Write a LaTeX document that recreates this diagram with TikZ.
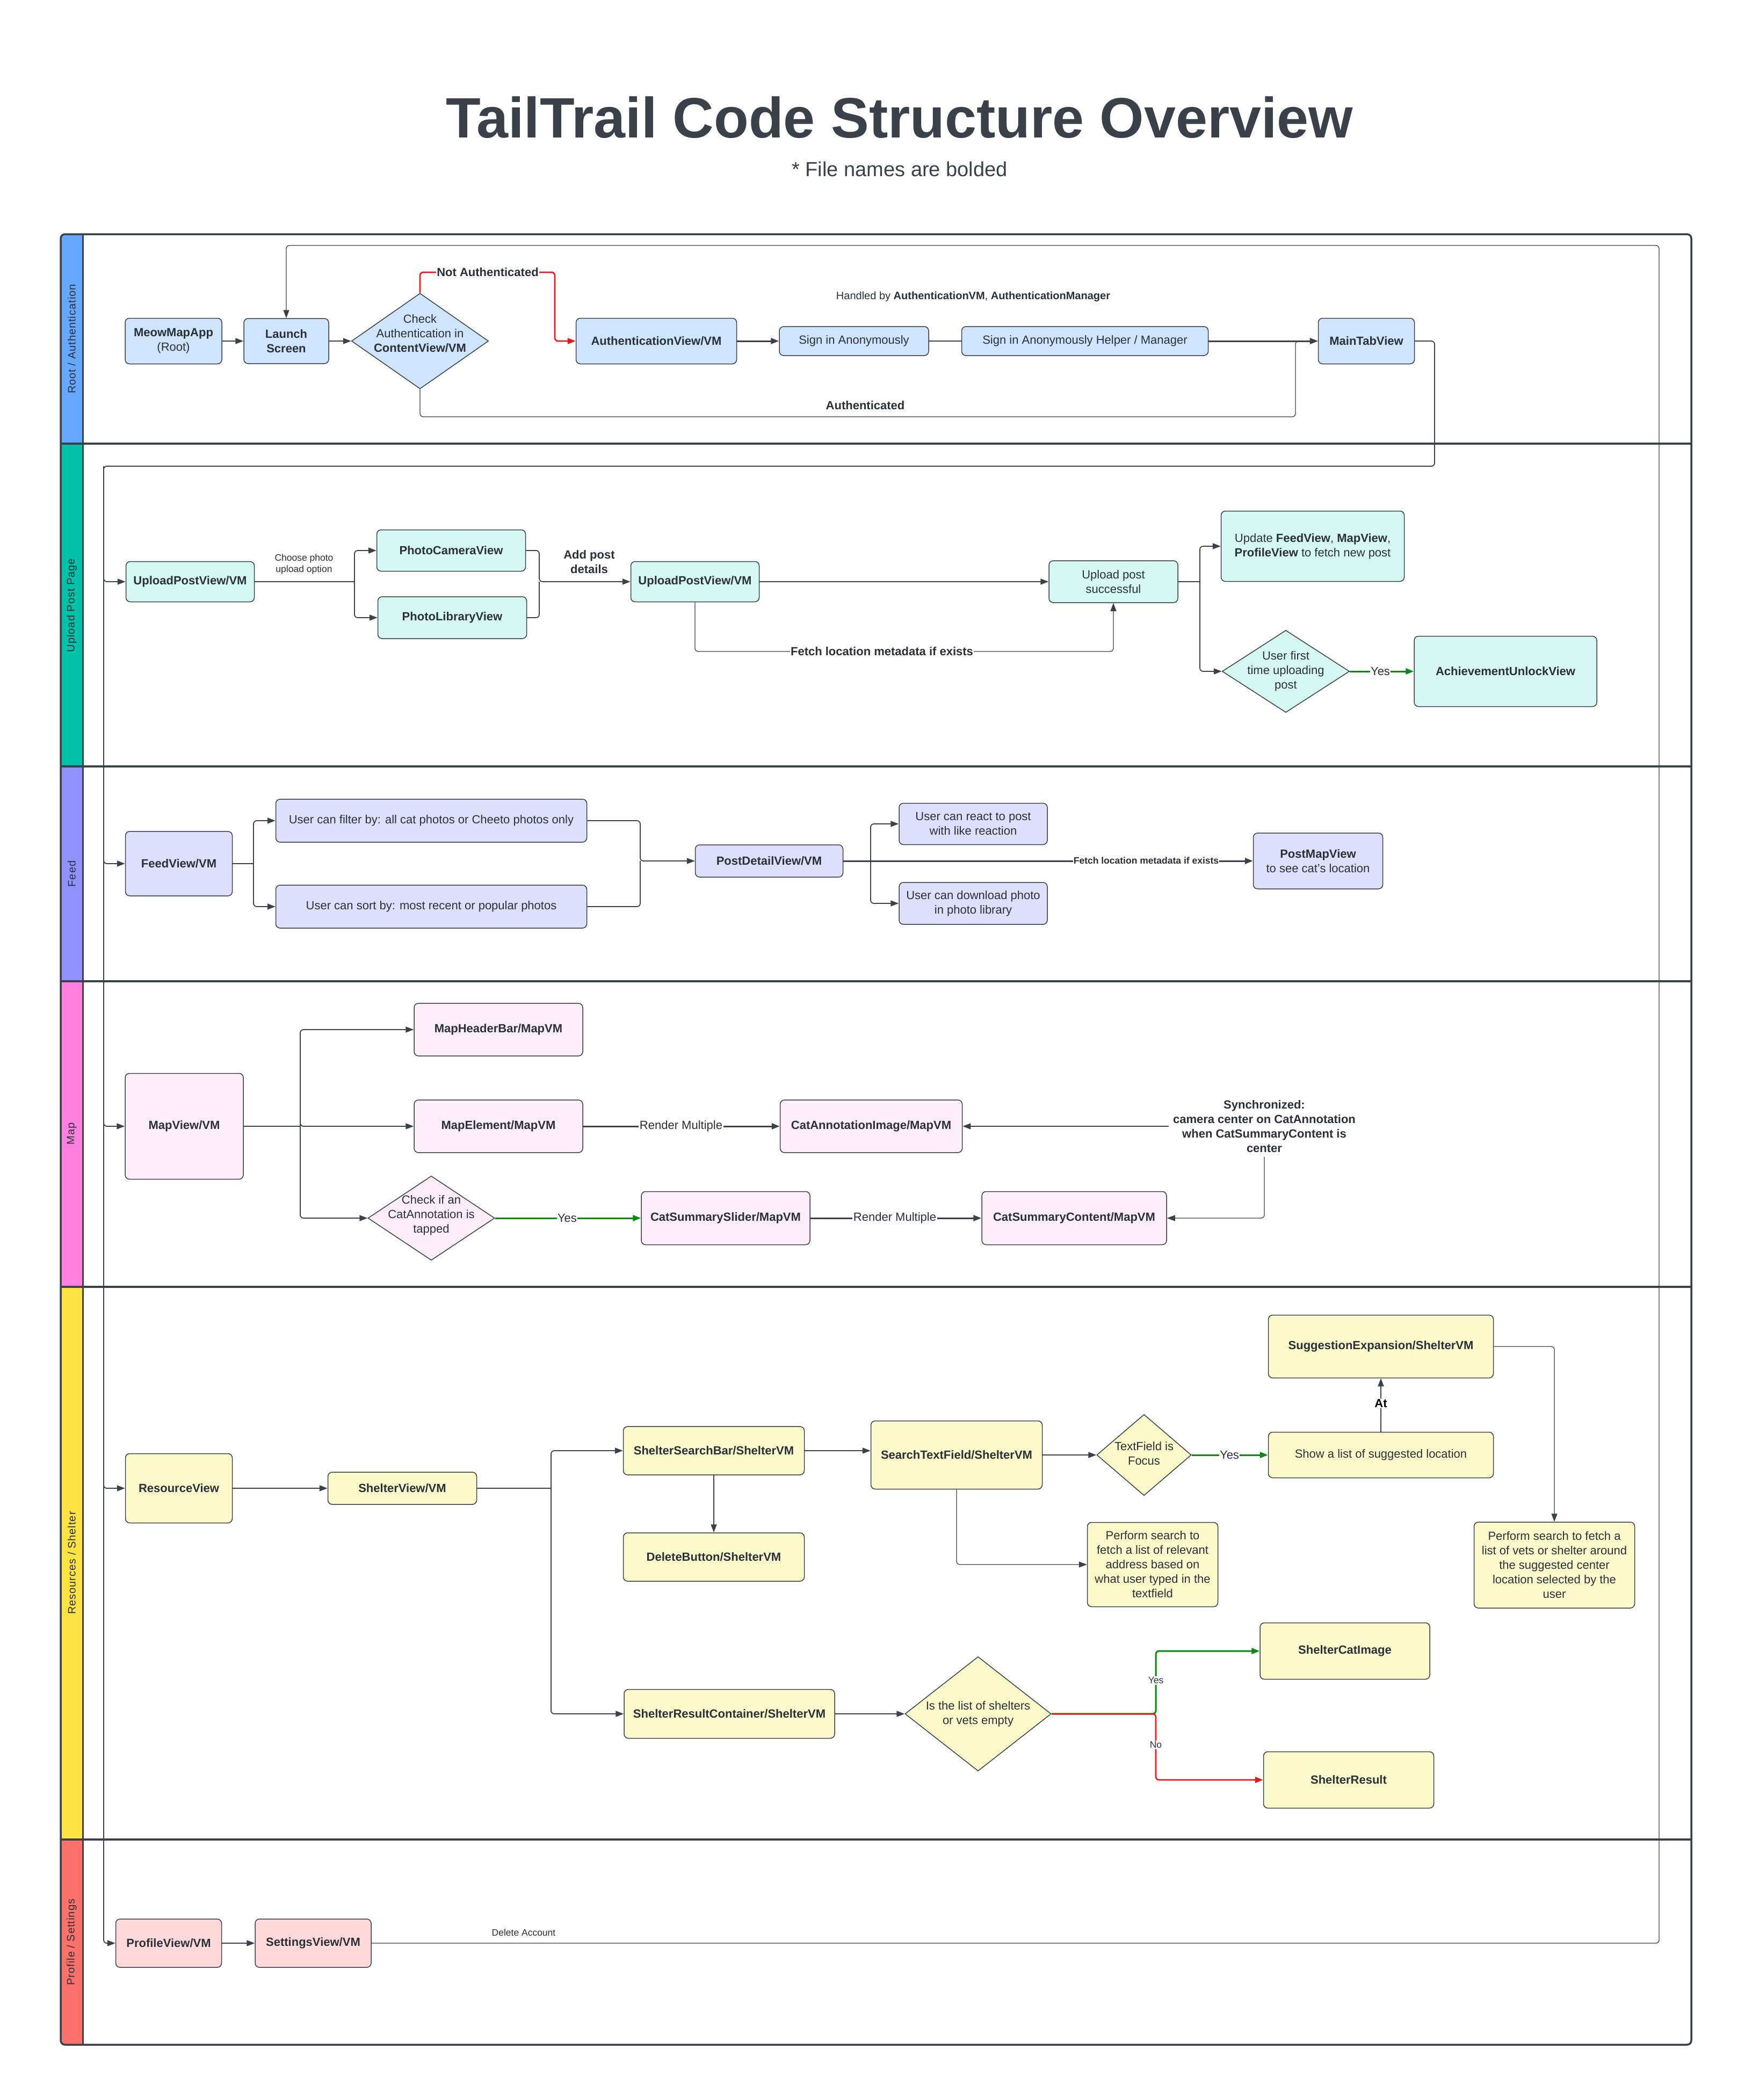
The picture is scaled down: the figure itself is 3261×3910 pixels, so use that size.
\documentclass[tikz,border=0pt]{standalone}
\usepackage{fontspec}
\setmainfont{Liberation Sans}
\usetikzlibrary{arrows.meta,shapes.geometric}

\definecolor{ink}{HTML}{2B3038}
\definecolor{linec}{HTML}{3A414A}
\definecolor{rootS}{HTML}{66A8FF}
\definecolor{upS}{HTML}{00C2A8}
\definecolor{feedS}{HTML}{9191FF}
\definecolor{mapS}{HTML}{FF80DF}
\definecolor{resS}{HTML}{FFE342}
\definecolor{profS}{HTML}{FF716B}
\definecolor{rootF}{HTML}{CFE4FF}
\definecolor{upF}{HTML}{D5F8F2}
\definecolor{feedF}{HTML}{DEDEFD}
\definecolor{mapF}{HTML}{FDEEF9}
\definecolor{resF}{HTML}{FCFACA}
\definecolor{profF}{HTML}{FFD9D9}
\definecolor{okG}{HTML}{008A0E}
\definecolor{noR}{HTML}{E81818}

\newcommand\tlBody{\fontsize{22}{27}\selectfont}
\newcommand\tlSmall{\fontsize{17.5}{21}\selectfont}
\newcommand\tlLane{\fontsize{20}{24}\selectfont\addfontfeatures{LetterSpace=5}}

\tikzset{
  box/.style={draw=linec, line width=1.5pt, rounded corners=8pt, align=center,
    inner sep=3pt, font=\tlBody, text=ink},
  boxb/.style={box, font=\tlBody\bfseries},
  dia/.style={diamond, draw=linec, line width=1.5pt, inner sep=0pt},
  dtext/.style={align=center, font=\tlBody, text=ink},
  lane/.style={rotate=90, font=\tlLane, text=ink},
  flow/.style={draw=linec, line width=1.8pt, rounded corners=6pt,
    -{Triangle[length=15pt,width=11pt]}},
  wire/.style={draw=linec, line width=1.8pt, rounded corners=6pt},
  flowT/.style={flow, line width=3pt},
  flowL/.style={flow, line width=1.3pt},
  gflow/.style={flow, draw=okG, line width=3pt},
  rflow/.style={flow, draw=noR, line width=2.6pt},
  lbl/.style={fill=white, inner sep=1.5pt, font=\tlBody, text=ink},
  lblb/.style={lbl, font=\tlBody\bfseries},
  slbl/.style={fill=white, inner sep=1.5pt, font=\tlSmall, text=ink, align=center},
}

\begin{document}
\begin{tikzpicture}[x=1pt,y=-1pt]
\path[use as bounding box, fill=white] (0,0) rectangle (3261,3910);

% ---------- heading ----------
\node[font=\fontsize{106}{120}\selectfont\bfseries, text=linec] (title) at (1675,219)
  {TailTrail Code Structure Overview};
\node[font=\fontsize{38}{44}\selectfont, text=linec] (subtitle) at (1675,315)
  {* File names are bolded};

% ---------- swimlanes ----------
\begin{scope}
  \clip[rounded corners=8pt] (113,436) rectangle (3149,3807);
  \fill[rootS] (113,436) rectangle (154,826);
  \fill[upS]   (113,826) rectangle (154,1427);
  \fill[feedS] (113,1427) rectangle (154,1827);
  \fill[mapS]  (113,1827) rectangle (154,2396);
  \fill[resS]  (113,2396) rectangle (154,3425);
  \fill[profS] (113,3425) rectangle (154,3807);
\end{scope}
\draw[linec, line width=4pt]
  (113,826) -- (3149,826)   (113,1427) -- (3149,1427)
  (113,1827) -- (3149,1827) (113,2396) -- (3149,2396)
  (113,3425) -- (3149,3425);
\draw[linec, line width=3pt] (154,436) -- (154,3807);
\draw[linec, line width=3.5pt, rounded corners=8pt] (113,436) rectangle (3149,3807);

\node[lane] (laneRoot) at (133.5,631)  {Root / Authentication};
\node[lane] (laneUp)   at (133.5,1127) {Upload Post Page};
\node[lane] (laneFeed) at (133.5,1627) {Feed};
\node[lane] (laneMap)  at (133.5,2111) {Map};
\node[lane] (laneRes)  at (133.5,2910) {Resources / Shelter};
\node[lane] (laneProf) at (133.5,3616) {Profile / Settings};

% ---------- Root / Authentication ----------
\node[box, fill=rootF, minimum width=180pt, minimum height=85pt] (meow) at (323,635)
  {\textbf{MeowMapApp}\\(Root)};
\node[boxb, fill=rootF, minimum width=158pt, minimum height=84pt] (launch) at (533,635)
  {Launch\\Screen};
\node[dia, fill=rootF, minimum width=255pt, minimum height=178pt,
  label={[dtext, yshift=14pt]center:{Check\\Authentication in\\\textbf{ContentView/VM}}}]
  (chkAuth) at (782,635) {};
\node[boxb, fill=rootF, minimum width=299pt, minimum height=85pt] (authV) at (1222,635)
  {AuthenticationView/VM};
\node[box, fill=rootF, minimum width=278pt, minimum height=54pt] (signIn) at (1590,635)
  {Sign in Anonymously};
\node[box, fill=rootF, minimum width=459pt, minimum height=54pt] (helper) at (2020,635)
  {Sign in Anonymously Helper / Manager};
\node[boxb, fill=rootF, minimum width=179pt, minimum height=85pt] (mainTab) at (2544,635)
  {MainTabView};
\node[font=\fontsize{20}{24}\selectfont, text=ink] (handled) at (1812,552)
  {Handled by \textbf{AuthenticationVM}, \textbf{AuthenticationManager}};

\draw[flow] (meow.east) -- (launch.west);
\draw[flow] (launch.east) -- (chkAuth.west);
\coordinate (naUp) at (1033,507);
\draw[rflow] (chkAuth.north) |- (naUp) |- (authV.west);
\draw[flowT] (authV.east) -- (signIn.west);
\draw[wire] (signIn.east) -- (helper.west);
\draw[flowT] (helper.east) -- (mainTab.west);
\coordinate (authDn) at (2412,776);
\draw[flowL] (chkAuth.south) |- (authDn) |- (mainTab.west);
\node[lblb] (naLbl) at (908,507) {Not Authenticated};
\node[font=\tlBody\bfseries, text=ink] (authLbl) at (1611,755) {Authenticated};

% bus from MainTabView into every lane
\coordinate (mtTurn) at (2671,868);
\coordinate (busTop) at (193,868);

% ---------- Upload Post Page ----------
\node[boxb, fill=upF, minimum width=239pt, minimum height=75pt] (upload1) at (354,1083)
  {UploadPostView/VM};
\node[boxb, fill=upF, minimum width=277pt, minimum height=77pt] (camera) at (840,1025)
  {PhotoCameraView};
\node[boxb, fill=upF, minimum width=277pt, minimum height=78pt] (library) at (842,1150)
  {PhotoLibraryView};
\node[boxb, fill=upF, minimum width=239pt, minimum height=75pt] (upload2) at (1294,1083)
  {UploadPostView/VM};
\node[box, fill=upF, minimum width=240pt, minimum height=78pt] (success) at (2073,1083)
  {Upload post\\successful};
\node[box, fill=upF, minimum width=341pt, minimum height=131pt] (update) at (2444,1017)
  {Update \textbf{FeedView}, \textbf{MapView},\\\textbf{ProfileView} to fetch new post};
\node[dia, fill=upF, minimum width=237pt, minimum height=153pt,
  label={[dtext]center:{User first\\time uploading\\post}}] (firstDia) at (2394,1250) {};
\node[boxb, fill=upF, minimum width=340pt, minimum height=131pt] (achieve) at (2803,1250)
  {AchievementUnlockView};

\coordinate (chooseBr) at (660,1083);
\coordinate (addBr) at (1004,1083);
\coordinate (succBr) at (2234,1083);
\coordinate (fetchY) at (0,1213);
\draw[wire] (upload1.east) -- (chooseBr);
\draw[flow] (chooseBr) |- (camera.west);
\draw[flow] (chooseBr) |- (library.west);
\draw[wire] (library.east) -| (addBr);
\draw[flow] (camera.east) -| (addBr) -- (upload2.west);
\draw[flow] (upload2.east) -- (success.west);
\draw[flowL] (upload2.south) |- (fetchY -| success.south) -- (success.south);
\draw[wire] (success.east) -- (succBr);
\draw[flow] (succBr) |- (update.west);
\draw[flow] (succBr) |- (firstDia.west);
\draw[gflow] (firstDia.east) -- (achieve.west);
\node[slbl] (chooseLbl) at (566,1050) {Choose photo\\upload option};
\node[font=\tlBody\bfseries, text=ink, align=center] (addLbl) at (1097,1046) {Add post\\details};
\node[lblb] (fetchLbl) at (1642,1213) {Fetch location metadata if exists};
\node[lbl] (yesUp) at (2570,1250) {Yes};

% ---------- Feed ----------
\node[boxb, fill=feedF, minimum width=199pt, minimum height=120pt] (feed) at (333,1608)
  {FeedView/VM};
\node[box, fill=feedF, minimum width=579pt, minimum height=80pt] (filter) at (803,1528)
  {User can filter by: all cat photos or Cheeto photos only};
\node[box, fill=feedF, minimum width=579pt, minimum height=80pt] (sortB) at (803,1688)
  {User can sort by: most recent or popular photos};
\node[boxb, fill=feedF, minimum width=275pt, minimum height=60pt] (postD) at (1432,1603)
  {PostDetailView/VM};
\node[box, fill=feedF, minimum width=276pt, minimum height=77pt] (react) at (1812,1534)
  {User can react to post\\with like reaction};
\node[box, fill=feedF, minimum width=276pt, minimum height=78pt] (download) at (1812,1682)
  {User can download photo\\in photo library};
\node[box, fill=feedF, minimum width=241pt, minimum height=104pt] (postMap) at (2454,1603)
  {\textbf{PostMapView}\\to see cat's location};

\coordinate (feedBr) at (472,1608);
\coordinate (feedMrg) at (1192,1603);
\coordinate (postBr) at (1621,1603);
\draw[wire] (feed.east) -- (feedBr);
\draw[flow] (feedBr) |- (filter.west);
\draw[flow] (feedBr) |- (sortB.west);
\draw[wire] (sortB.east) -| (feedMrg);
\draw[flow] (filter.east) -| (feedMrg) -- (postD.west);
\draw[flow] (postBr) |- (react.west);
\draw[flow] (postBr) |- (download.west);
\draw[flowT] (postD.east) -- (postMap.west);
\node[fill=white, inner sep=1pt, font=\tlSmall\bfseries, text=ink] (fetchLbl2) at (2134,1602)
  {Fetch location metadata if exists};

% ---------- Map ----------
\node[boxb, fill=mapF, minimum width=220pt, minimum height=197pt] (mapV) at (343,2097)
  {MapView/VM};
\node[boxb, fill=mapF, minimum width=314pt, minimum height=98pt] (header) at (928,1917)
  {MapHeaderBar/MapVM};
\node[boxb, fill=mapF, minimum width=314pt, minimum height=98pt] (element) at (928,2097)
  {MapElement/MapVM};
\node[dia, fill=mapF, minimum width=236pt, minimum height=157pt,
  label={[dtext, yshift=5pt]center:{Check if an\\CatAnnotation is\\tapped}}] (mapDia) at (803,2268) {};
\node[boxb, fill=mapF, minimum width=339pt, minimum height=98pt] (catAnn) at (1622,2097)
  {CatAnnotationImage/MapVM};
\node[boxb, fill=mapF, minimum width=314pt, minimum height=99pt] (slider) at (1351,2268)
  {CatSummarySlider/MapVM};
\node[boxb, fill=mapF, minimum width=344pt, minimum height=99pt] (content) at (2000,2268)
  {CatSummaryContent/MapVM};
\node[font=\tlBody\bfseries, text=ink, align=center, inner sep=8pt] (sync) at (2354,2097)
  {Synchronized:\\camera center on CatAnnotation\\when CatSummaryContent is\\center};

\coordinate (mapBr) at (559,2097);
\draw[wire] (mapV.east) -- (mapBr);
\draw[flow] (mapBr) |- (header.west);
\draw[flow] (mapBr) |- (element.west);
\draw[flow] (mapBr) |- (mapDia.west);
\draw[flowT] (element.east) -- (catAnn.west);
\draw[gflow] (mapDia.east) -- (slider.west);
\draw[flowT] (slider.east) -- (content.west);
\draw[flow] (sync.west) -- (catAnn.east);
\draw[flowL] (sync.south) |- (content.east);
\node[lbl] (rm1) at (1268,2097) {Render Multiple};
\node[lbl] (yesMap) at (1056,2268) {Yes};
\node[lbl] (rm2) at (1666,2268) {Render Multiple};

% ---------- Resources / Shelter ----------
\node[boxb, fill=resF, minimum width=199pt, minimum height=129pt] (resource) at (333,2771)
  {ResourceView};
\node[boxb, fill=resF, minimum width=277pt, minimum height=60pt] (shelterV) at (749,2771)
  {ShelterView/VM};
\node[boxb, fill=resF, minimum width=337pt, minimum height=90pt] (searchBar) at (1329,2701)
  {ShelterSearchBar/ShelterVM};
\node[boxb, fill=resF, minimum width=337pt, minimum height=90pt] (deleteB) at (1329,2899)
  {DeleteButton/ShelterVM};
\node[boxb, fill=resF, minimum width=319pt, minimum height=127pt] (textField) at (1781,2709)
  {SearchTextField/ShelterVM};
\node[dia, fill=resF, minimum width=176pt, minimum height=151pt,
  label={[dtext, yshift=3pt]center:{TextField is\\Focus}}] (focusDia) at (2130,2709) {};
\node[box, fill=resF, minimum width=419pt, minimum height=85pt] (showList) at (2571,2709)
  {Show a list of suggested location};
\node[boxb, fill=resF, minimum width=419pt, minimum height=117pt] (suggExp) at (2571,2507)
  {SuggestionExpansion/ShelterVM};
\node[box, fill=resF, minimum width=243pt, minimum height=157pt] (perform1) at (2146,2913)
  {Perform search to\\fetch a list of relevant\\address based on\\what user typed in the\\textfield};
\node[box, fill=resF, minimum width=299pt, minimum height=160pt] (perform2) at (2894,2914)
  {Perform search to fetch a\\list of vets or shelter around\\the suggested center\\location selected by the\\user};
\node[boxb, fill=resF, minimum width=392pt, minimum height=91pt] (resultC) at (1358,3191)
  {ShelterResultContainer/ShelterVM};
\node[dia, fill=resF, minimum width=272pt, minimum height=213pt,
  label={[dtext]center:{Is the list of shelters\\or vets empty}}] (emptyDia) at (1821,3191) {};
\node[boxb, fill=resF, minimum width=316pt, minimum height=105pt] (catImg) at (2504,3074)
  {ShelterCatImage};
\node[boxb, fill=resF, minimum width=317pt, minimum height=105pt] (sResult) at (2511,3314)
  {ShelterResult};

\coordinate (shelBr) at (1026,2771);
\coordinate (emptyBr) at (2152,3191);
\draw[flow] (resource.east) -- (shelterV.west);
\draw[wire] (shelterV.east) -- (shelBr);
\draw[flow] (shelBr) |- (searchBar.west);
\draw[flow] (shelBr) |- (resultC.west);
\draw[flow] (searchBar.south) -- (deleteB.north);
\draw[flow] (searchBar.east) -- (searchBar.east -| textField.west);
\draw[flow] (textField.east) -- (focusDia.west);
\draw[gflow] (focusDia.east) -- (showList.west);
\draw[flow] (showList.north) -- (suggExp.south);
\draw[flowL] (suggExp.east) -| (perform2.north);
\draw[flowL] (textField.south) |- (perform1.west);
\draw[flow] (resultC.east) -- (emptyDia.west);
\draw[gflow] (emptyDia.east) -- (emptyBr) |- (catImg.west);
\draw[rflow] (emptyDia.east) -- (emptyBr) |- (sResult.west);
\node[lbl] (yesRes) at (2289,2709) {Yes};
\node[lblb, text=black] (atLbl) at (2571,2613) {At};
\node[slbl] (yesEmpty) at (2152,3129) {Yes};
\node[slbl] (noEmpty) at (2152,3249) {No};

% ---------- Profile / Settings ----------
\node[boxb, fill=profF, minimum width=197pt, minimum height=90pt] (profile) at (314,3618)
  {ProfileView/VM};
\node[boxb, fill=profF, minimum width=216pt, minimum height=90pt] (settings) at (583,3618)
  {SettingsView/VM};
\draw[flow] (profile.east) -- (settings.west);

% Delete Account returns to the launch screen
\coordinate (loopB) at (3089,3618);
\coordinate (loopT) at (3089,457);
\draw[flowL] (settings.east) -- (loopB) -- (loopT) -| (launch.north);
\node[font=\tlSmall, text=ink] (delLbl) at (975,3598) {Delete Account};

% bus into each lane's entry view
\draw[flow] (mainTab.east) -| (mtTurn) -- (busTop) |- (upload1.west);
\draw[flow] (busTop) |- (feed.west);
\draw[flow] (busTop) |- (mapV.west);
\draw[flow] (busTop) |- (resource.west);
\draw[flow] (busTop) |- (profile.west);
\end{tikzpicture}
\end{document}
